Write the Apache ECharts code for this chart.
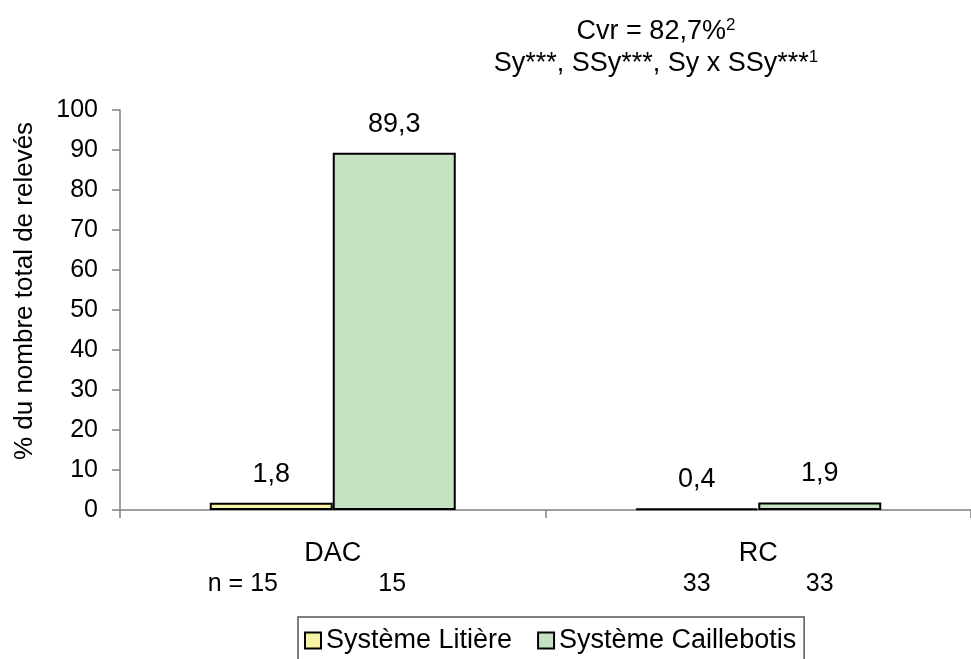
<!DOCTYPE html>
<html>
<head>
<meta charset="utf-8">
<script src="https://cdn.jsdelivr.net/npm/echarts@6/dist/echarts.min.js"></script>
<style>
  html, body { margin: 0; padding: 0; background: #fff; }
  #chart { width: 971px; height: 659px; }
</style>
</head>
<body>
<div id="chart"></div>
<script>
// données
var categories = ['DAC', 'RC'];
var seriesNames = ['Système Litière', 'Système Caillebotis'];
var litiere = [1.8, 0.4];
var caillebotis = [89.3, 1.9];
var nLitiere = [15, 33];
var nCaillebotis = [15, 33];
var yTicks = { min: 0, max: 100, interval: 10 };

var FONT = '"Liberation Sans", Arial, sans-serif';

function virgule(v) {
  return String(v).replace('.', ',');
}

var chart = echarts.init(document.getElementById('chart'));

var barBase = {
  type: 'bar',
  barWidth: 123,
  barGap: '0%',
  label: {
    show: true,
    position: 'top',
    distance: 15,
    fontFamily: FONT,
    fontSize: 27,
    color: '#000',
    formatter: function (p) { return virgule(p.value); }
  }
};

chart.setOption({
  animation: false,
  backgroundColor: '#fff',
  textStyle: { fontFamily: FONT },
  title: {
    left: 656,
    top: 16,
    textAlign: 'center',
    padding: 0,
    text: '{a|Cvr = 82,7%}{s|2}\n{a|Sy***, SSy***, Sy x SSy***}{s|1}',
    textStyle: {
      fontWeight: 'normal',
      rich: {
        a: { fontFamily: FONT, fontSize: 27, fontWeight: 'normal', color: '#000', lineHeight: 32 },
        s: { fontFamily: FONT, fontSize: 17, fontWeight: 'normal', color: '#000', lineHeight: 32, padding: [0, 0, 14, 0] }
      }
    }
  },
  grid: { left: 120, top: 110, width: 854, height: 400, containLabel: false },
  legend: {
    data: seriesNames,
    left: 298,
    top: 617,
    padding: [10, 8, 10, 6],
    itemGap: 25,
    itemWidth: 16,
    itemHeight: 16,
    borderColor: '#555',
    borderWidth: 1.5,
    backgroundColor: '#fff',
    icon: 'rect',
    itemStyle: { borderColor: '#000', borderWidth: 2 },
    textStyle: { fontFamily: FONT, fontSize: 27, color: '#000' }
  },
  xAxis: {
    type: 'category',
    data: categories,
    axisLine: { lineStyle: { color: '#808080', width: 1.5 } },
    axisTick: { show: true, length: 8, interval: 0, lineStyle: { color: '#808080', width: 1.5 } },
    axisLabel: {
      margin: 29,
      interval: 0,
      formatter: function (v, i) {
        var left = i === 0 ? '{nl|n = ' + nLitiere[i] + '}' : '{nc|' + nLitiere[i] + '}';
        return '{c|' + v + '}\n' + left + '{nc|' + nCaillebotis[i] + '}';
      },
      rich: {
        c: { fontFamily: FONT, fontSize: 27, color: '#000', lineHeight: 30 },
        nl: { fontFamily: FONT, fontSize: 25, color: '#000', lineHeight: 30, width: 123, align: 'left', padding: [0, 0, 0, -4] },
        nc: { fontFamily: FONT, fontSize: 25, color: '#000', lineHeight: 30, width: 123, align: 'center' }
      }
    }
  },
  yAxis: {
    type: 'value',
    min: yTicks.min,
    max: yTicks.max,
    interval: yTicks.interval,
    name: '% du nombre total de relevés',
    nameLocation: 'middle',
    nameGap: 82,
    nameRotate: 90,
    nameTextStyle: { fontFamily: FONT, fontSize: 26, color: '#000', padding: [0, 0, 0, 38] },
    splitLine: { show: false },
    axisLine: { show: true, lineStyle: { color: '#808080', width: 1.5 } },
    axisTick: { show: true, length: 8, lineStyle: { color: '#808080', width: 1.5 } },
    axisLabel: { margin: 22, fontFamily: FONT, fontSize: 25, color: '#000' }
  },
  series: [
    Object.assign({}, barBase, {
      name: seriesNames[0],
      data: litiere,
      itemStyle: { color: '#f7f3a5', borderColor: '#000', borderWidth: 2 }
    }),
    Object.assign({}, barBase, {
      name: seriesNames[1],
      data: caillebotis,
      itemStyle: { color: '#c5e3c2', borderColor: '#000', borderWidth: 2 }
    })
  ]
});
</script>
</body>
</html>
